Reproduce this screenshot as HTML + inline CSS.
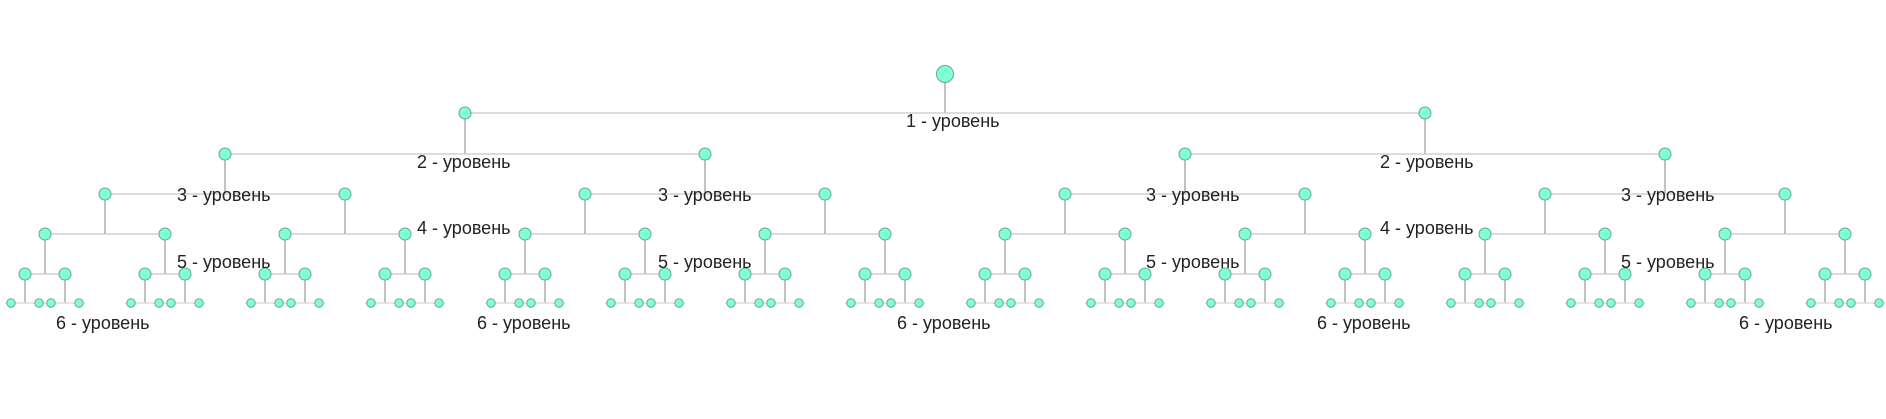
<!DOCTYPE html>
<html><head><meta charset="utf-8">
<style>
html,body{margin:0;padding:0;background:#fff;width:1886px;height:419px;overflow:hidden}
svg{display:block}
text{font-family:"Liberation Sans",Arial,sans-serif;font-size:18px;fill:#222}
</style></head>
<body>
<svg id="s" width="1886" height="419" xmlns="http://www.w3.org/2000/svg">
<g id="lines"></g>
<g id="nodes"></g>
<g id="labels">
<text x="906" y="127">1 - уровень</text>
<text x="417" y="168">2 - уровень</text>
<text x="1380" y="168">2 - уровень</text>
<text x="177" y="201">3 - уровень</text>
<text x="658" y="201">3 - уровень</text>
<text x="1146" y="201">3 - уровень</text>
<text x="1621" y="201">3 - уровень</text>
<text x="417" y="234">4 - уровень</text>
<text x="1380" y="234">4 - уровень</text>
<text x="177" y="268">5 - уровень</text>
<text x="658" y="268">5 - уровень</text>
<text x="1146" y="268">5 - уровень</text>
<text x="1621" y="268">5 - уровень</text>
<text x="56" y="329">6 - уровень</text>
<text x="477" y="329">6 - уровень</text>
<text x="897" y="329">6 - уровень</text>
<text x="1317" y="329">6 - уровень</text>
<text x="1739" y="329">6 - уровень</text>
</g>
</svg>
<script>
var NS="http://www.w3.org/2000/svg";
var L=document.getElementById("lines"),N=document.getElementById("nodes");
var ys=[74,113,154,194,234,274,303];
var off=[480,240,120,60,20,14];
var rad=[8.5,6,6,6,6,6,4.2];
function el(p,t,a){var e=document.createElementNS(NS,t);for(var k in a)e.setAttribute(k,a[k]);p.appendChild(e);}
function node(x,lv){el(N,"circle",{cx:x,cy:ys[lv],r:rad[lv],fill:"#7fffd4",stroke:"#6aa595","stroke-width":1});}
function rec(x,lv){
  node(x,lv);
  if(lv>=6)return;
  var o=off[lv],y=ys[lv+1];
  el(L,"line",{x1:x,y1:ys[lv],x2:x,y2:y,stroke:"#a0a0a0","stroke-width":1.3});
  var ext=lv==5?6:0;
  el(L,"line",{x1:x-o-ext,y1:y,x2:x+o+ext,y2:y,stroke:lv==5?"#d8d8d8":"#c8c8c8","stroke-width":1.3});
  rec(x-o,lv+1);rec(x+o,lv+1);
}
rec(945,0);
</script>
</body></html>
